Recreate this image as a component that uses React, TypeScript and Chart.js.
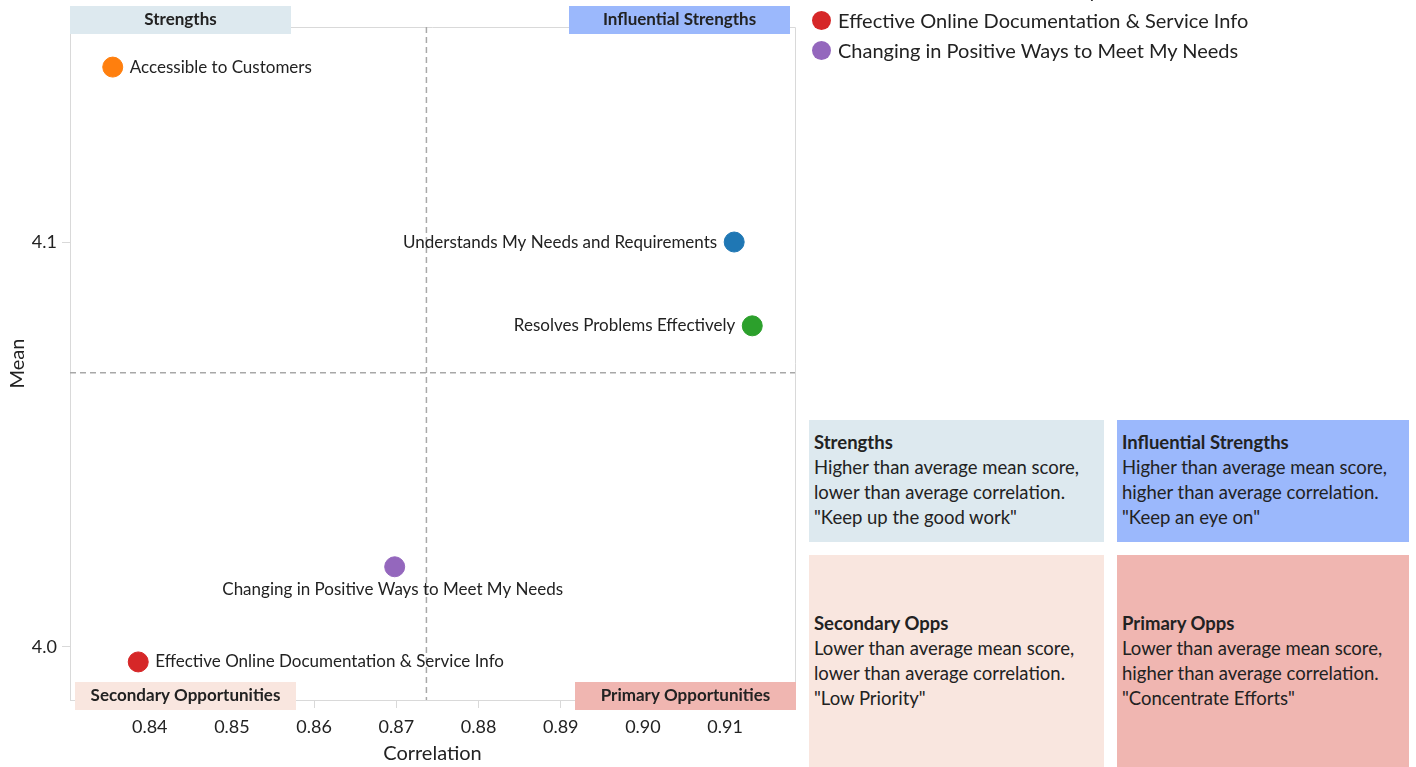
import React, { useEffect, useRef } from "react";
import { Chart, registerables } from "chart.js";

Chart.register(...registerables);

const itemNames = [
  "Understands My Needs and Requirements",
  "Accessible to Customers",
  "Resolves Problems Effectively",
  "Effective Online Documentation & Service Info",
  "Changing in Positive Ways to Meet My Needs",
];
const correlationValues = [0.9111, 0.8355, 0.9133, 0.8386, 0.8698];
const meanValues = [4.1, 4.1432, 4.0793, 3.9963, 4.0198];
const itemColors = ["#1f77b4", "#ff7f0e", "#2ca02c", "#d62728", "#9467bd"];
const labelSides = ["left", "right", "left", "right", "below"];
const xTickValues = [0.84, 0.85, 0.86, 0.87, 0.88, 0.89, 0.9, 0.91];
const yTickValues = [4.0, 4.1];
const xRange = [0.8303, 0.9185];
const yRange = [3.9869, 4.1531];

const quadrantTitles = ["Strengths", "Influential Strengths", "Secondary Opportunities", "Primary Opportunities"];
const quadrantColors = ["#dde9ef", "#9bb8fc", "#f9e6df", "#f0b6b1"];
const panelTitles = ["Strengths", "Influential Strengths", "Secondary Opps", "Primary Opps"];
const panelLines = [
  ["Higher than average mean score,", "lower than average correlation.", '"Keep up the good work"'],
  ["Higher than average mean score,", "higher than average correlation.", '"Keep an eye on"'],
  ["Lower than average mean score,", "lower than average correlation.", '"Low Priority"'],
  ["Lower than average mean score,", "higher than average correlation.", '"Concentrate Efforts"'],
];

const FONT = "Lato, 'Open Sans', sans-serif";

const overlayPlugin = {
  id: "overlay",
  beforeDatasetsDraw(chart: any) {
    const { ctx, chartArea: a, scales } = chart;
    ctx.save();
    ctx.strokeStyle = "#d9d9d9";
    ctx.lineWidth = 1;
    ctx.beginPath();
    ctx.moveTo(a.left, a.top + 0.5);
    ctx.lineTo(a.right + 0.5, a.top + 0.5);
    ctx.lineTo(a.right + 0.5, a.bottom);
    ctx.stroke();
    const avgX = correlationValues.reduce((s, v) => s + v, 0) / correlationValues.length;
    const avgY = meanValues.reduce((s, v) => s + v, 0) / meanValues.length;
    const px = scales.x.getPixelForValue(avgX);
    const py = scales.y.getPixelForValue(avgY);
    ctx.strokeStyle = "#a8a8a8";
    ctx.lineWidth = 1.5;
    ctx.setLineDash([6, 4]);
    ctx.beginPath();
    ctx.moveTo(px, a.top);
    ctx.lineTo(px, a.bottom);
    ctx.moveTo(a.left, py);
    ctx.lineTo(a.right, py);
    ctx.stroke();
    ctx.restore();
  },
  afterDatasetsDraw(chart: any) {
    const { ctx, chartArea: a } = chart;
    const meta = chart.getDatasetMeta(0);
    ctx.save();
    ctx.font = `17px ${FONT}`;
    ctx.fillStyle = "#222";
    meta.data.forEach((pt: any, i: number) => {
      const side = labelSides[i];
      ctx.textBaseline = "middle";
      if (side === "right") {
        ctx.textAlign = "left";
        ctx.fillText(itemNames[i], pt.x + 17, pt.y);
      } else if (side === "left") {
        ctx.textAlign = "right";
        ctx.fillText(itemNames[i], pt.x - 17, pt.y);
      } else {
        ctx.textAlign = "center";
        ctx.fillText(itemNames[i], pt.x - 2, pt.y + 23);
      }
    });
    const w = 221;
    const h = 28;
    const boxes = [
      [a.left, a.top - 21],
      [a.right - 5 - w, a.top - 21],
      [a.left + 5, a.bottom - 18],
      [a.right + 1 - w, a.bottom - 18],
    ];
    ctx.font = `bold 17px ${FONT}`;
    ctx.textAlign = "center";
    ctx.textBaseline = "middle";
    boxes.forEach((b, i) => {
      ctx.fillStyle = quadrantColors[i];
      ctx.fillRect(b[0], b[1], w, h);
      ctx.fillStyle = "#222";
      ctx.fillText(quadrantTitles[i], b[0] + w / 2, b[1] + h / 2);
    });
    ctx.restore();
  },
};

export default function App() {
  const canvasRef = useRef<HTMLCanvasElement | null>(null);

  useEffect(() => {
    document.body.style.margin = "0";
    const canvas = canvasRef.current;
    if (!canvas) return;
    const chart = new Chart(canvas, {
      type: "scatter",
      data: {
        datasets: [
          {
            label: "Items",
            data: correlationValues.map((x, i) => ({ x, y: meanValues[i] })),
            backgroundColor: itemColors,
            borderColor: itemColors,
            pointRadius: 10,
            pointHoverRadius: 10,
          },
        ],
      },
      options: {
        responsive: false,
        animation: false,
        layout: { padding: { top: 27, right: 621, left: 0, bottom: 0 } },
        plugins: { legend: { display: false }, tooltip: { enabled: false } },
        scales: {
          x: {
            type: "linear",
            min: xRange[0],
            max: xRange[1],
            afterBuildTicks: (s: any) => {
              s.ticks = xTickValues.map((v) => ({ value: v }));
            },
            afterFit: (s: any) => {
              s.height = 67;
            },
            grid: { drawOnChartArea: false, drawTicks: true, tickLength: 8, color: "#d9d9d9" },
            border: { display: true, color: "#d9d9d9" },
            ticks: {
              color: "#222",
              font: { size: 18, family: FONT },
              padding: 8,
              callback: (v: any) => Number(v).toFixed(2),
            },
            title: {
              display: true,
              text: "Correlation",
              color: "#222",
              font: { size: 20, family: FONT },
              padding: { top: 0, bottom: 1 },
            },
          },
          y: {
            type: "linear",
            min: yRange[0],
            max: yRange[1],
            afterBuildTicks: (s: any) => {
              s.ticks = yTickValues.map((v) => ({ value: v }));
            },
            afterFit: (s: any) => {
              s.width = 70;
            },
            grid: { drawOnChartArea: false, drawTicks: true, tickLength: 8, color: "#d9d9d9" },
            border: { display: true, color: "#d9d9d9" },
            ticks: {
              color: "#222",
              font: { size: 18, family: FONT },
              padding: 5,
              callback: (v: any) => Number(v).toFixed(1),
            },
            title: {
              display: true,
              text: "Mean",
              color: "#222",
              font: { size: 20, family: FONT },
              padding: { top: 6, bottom: 4 },
            },
          },
        },
      },
      plugins: [overlayPlugin],
    });
    return () => chart.destroy();
  }, []);

  const panelPos = [
    { left: 809, top: 420, width: 295, height: 122, textTop: 10 },
    { left: 1117, top: 420, width: 292, height: 122, textTop: 10 },
    { left: 809, top: 555, width: 295, height: 212, textTop: 56 },
    { left: 1117, top: 555, width: 292, height: 212, textTop: 56 },
  ];

  return (
    <div style={{ position: "fixed", left: 0, top: 0, width: 1416, height: 767, overflow: "hidden", background: "#fff", fontFamily: FONT }}>
      <canvas ref={canvasRef} width={1416} height={767} style={{ position: "absolute", left: 0, top: 0 }} />
      <div style={{ position: "absolute", left: 812, top: -85 }}>
        {itemNames.map((name, i) => (
          <div key={name} style={{ height: 30, display: "flex", alignItems: "center", fontSize: 20, color: "#222", whiteSpace: "nowrap" }}>
            <span style={{ display: "inline-block", width: 19, height: 19, borderRadius: "50%", background: itemColors[i], marginRight: 7 }} />
            {name}
          </div>
        ))}
      </div>
      {panelPos.map((p, i) => (
        <div key={i} style={{ position: "absolute", left: p.left, top: p.top, width: p.width, height: p.height, background: quadrantColors[i], boxSizing: "border-box", padding: `${p.textTop}px 5px 0 5px`, color: "#222", fontSize: 18.5, lineHeight: "25px", whiteSpace: "nowrap" }}>
          <div style={{ fontWeight: "bold" }}>{panelTitles[i]}</div>
          {panelLines[i].map((l) => (
            <div key={l}>{l}</div>
          ))}
        </div>
      ))}
    </div>
  );
}
